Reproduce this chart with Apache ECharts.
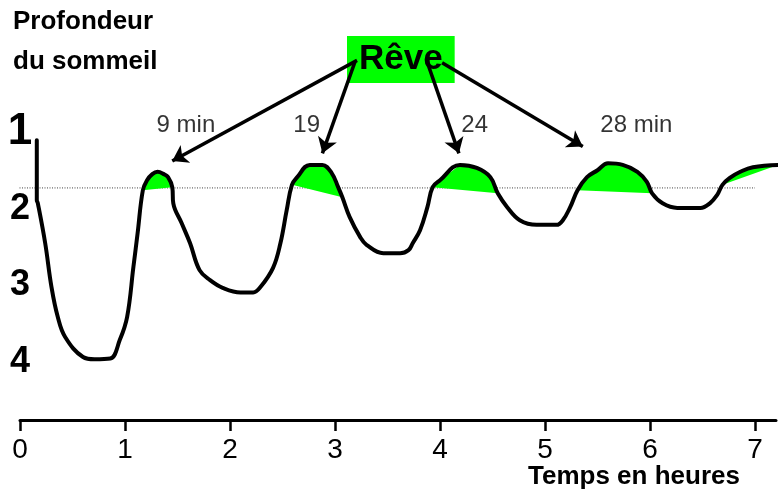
<!DOCTYPE html>
<html>
<head>
<meta charset="utf-8">
<script src="https://cdn.jsdelivr.net/npm/echarts@6/dist/echarts.min.js"></script>
<style>html,body{margin:0;padding:0;background:#fff}#c{width:778px;height:495px}</style>
</head>
<body>
<div id="c"></div>
<script>
// ---- data ----
const hours = [0.16,0.16,0.17,0.24,0.30,0.36,0.43,0.60,0.71,0.86,
  0.95,1.02,1.08,1.12,1.17,1.21,1.26,1.31,1.37,1.41,
  1.45,1.46,1.54,1.62,1.71,1.81,1.93,2.10,2.22,2.29,
  2.41,2.48,2.54,2.59,2.64,2.76,2.88,2.97,3.03,3.07,
  3.14,3.24,3.30,3.46,3.62,3.70,3.74,3.81,3.88,3.93,
  4.00,4.19,4.35,4.48,4.55,4.64,4.76,4.92,5.11,5.17,
  5.24,5.31,5.40,5.50,5.60,5.74,5.88,5.97,6.02,6.12,
  6.26,6.48,6.57,6.64,6.69,6.76,6.86,6.98,7.22];
const depth = [1.11,1.89,1.93,2.45,3.02,3.41,3.67,3.93,3.96,3.95,
  3.71,3.41,2.76,2.32,1.76,1.63,1.55,1.52,1.55,1.59,
  1.72,1.93,2.19,2.45,2.80,2.93,3.03,3.09,3.09,3.02,
  2.77,2.45,2.02,1.69,1.59,1.43,1.43,1.54,1.72,1.85,
  2.11,2.37,2.47,2.58,2.58,2.54,2.45,2.28,1.98,1.72,
  1.63,1.43,1.47,1.59,1.80,1.98,2.15,2.21,2.21,2.15,
  1.98,1.76,1.59,1.50,1.41,1.43,1.52,1.65,1.80,1.93,
  1.99,1.99,1.93,1.82,1.69,1.60,1.52,1.46,1.43];
const remStart = [1.17, 2.59, 3.93, 5.31, 6.69];
const remEnd   = [1.45, 3.07, 4.55, 6.02, 7.22];
const remLabels = ['9 min', '19', '24', '28 min'];
const xTickValues = [0, 1, 2, 3, 4, 5, 6, 7];
const yTickValues = [1, 2, 3, 4];
const thresholdDepth = 1.73;
const thresholdHours = [-0.1, 7.0];

// ---- annotation anchors (hours, depth) ----
const labelAnchors = [[1.58, 0.92], [2.73, 0.92], [4.33, 0.92], [5.87, 0.91]];
const arrowFrom = [[3.21, 0.07], [3.19, 0.09], [3.88, 0.10], [4.02, 0.10]];
const arrowTo   = [[1.45, 1.38], [2.88, 1.28], [4.18, 1.28], [5.36, 1.19]];

const FONT = '"Liberation Sans", Arial, sans-serif';
const curve = hours.map((h, i) => [h, depth[i]]);

const chart = echarts.init(document.getElementById('c'), null, {renderer: 'canvas'});
chart.setOption({
  animation: false,
  backgroundColor: '#fff',
  title: [
    {text: 'Profondeur\ndu sommeil', left: 13, top: 2, padding: 0,
     textStyle: {fontFamily: FONT, fontSize: 26, fontWeight: 'bold', lineHeight: 40, color: '#000'}},
    {text: 'Temps en heures', left: 528, top: 464, padding: 0,
     textStyle: {fontFamily: FONT, fontSize: 26, fontWeight: 'bold', lineHeight: 26, color: '#000'}},
    {text: 'Rêve', left: 347, top: 36, padding: [6, 12, 6, 12], z: 1,
     backgroundColor: '#00ff00',
     textStyle: {fontFamily: FONT, fontSize: 35, fontWeight: 'bold', lineHeight: 35, color: '#000'}}
  ],
  grid: {left: 20, right: 2, top: 55, bottom: 75},
  xAxis: {
    type: 'value', min: 0, max: 7.2, position: 'bottom',
    axisLine: {show: true, onZero: false, lineStyle: {color: '#000', width: 3}},
    axisTick: {show: true, length: 11, lineStyle: {color: '#000', width: 2.5}, customValues: xTickValues},
    axisLabel: {fontFamily: FONT, fontSize: 28, color: '#000', margin: 16, customValues: xTickValues},
    splitLine: {show: false}
  },
  yAxis: {
    type: 'value', inverse: true, min: 0, max: 4.75,
    axisLine: {show: false}, axisTick: {show: false}, splitLine: {show: false},
    axisLabel: {
      customValues: yTickValues, align: 'center', margin: 0,
      fontFamily: FONT, fontWeight: 'bold', fontSize: 36, color: '#000',
      formatter: v => v === 1 ? '{big|1}' : String(v),
      rich: {big: {fontFamily: FONT, fontWeight: 'bold', fontSize: 44, color: '#000'}}
    }
  },
  series: [
    {
      type: 'line', name: 'seuil', clip: false, silent: true, symbol: 'none', z: 1,
      data: thresholdHours.map(h => [h, thresholdDepth]),
      lineStyle: {color: '#444', width: 1, type: [1, 1.5]}
    },
    {
      type: 'custom', name: 'rem', z: 2,
      data: remStart.map((s, i) => [s, remEnd[i]]),
      renderItem: (params, api) => {
        const s = api.value(0), e = api.value(1);
        const pts = curve.filter(p => p[0] >= s - 0.005 && p[0] <= e + 0.005).map(p => api.coord(p));
        return {type: 'polygon', shape: {points: pts}, style: {fill: '#00ff00', stroke: null}};
      }
    },
    {
      type: 'line', name: 'sommeil', z: 3, symbol: 'none', smooth: 0.4,
      data: curve,
      lineStyle: {color: '#000', width: 4, cap: 'round', join: 'round'},
      markLine: {
        silent: true, symbol: ['none', 'arrow'], symbolSize: 15,
        lineStyle: {color: '#000', width: 3.5, type: 'solid'},
        label: {show: false},
        data: arrowFrom.map((f, i) => [{coord: f}, {coord: arrowTo[i]}])
      }
    },
    {
      type: 'scatter', name: 'durées', z: 4, symbolSize: 0, silent: true,
      data: remLabels.map((t, i) => ({name: t, value: labelAnchors[i]})),
      label: {show: true, position: 'inside', formatter: p => p.name,
              fontFamily: FONT, fontSize: 24, color: '#000'}
    }
  ]
});
</script>
</body>
</html>
